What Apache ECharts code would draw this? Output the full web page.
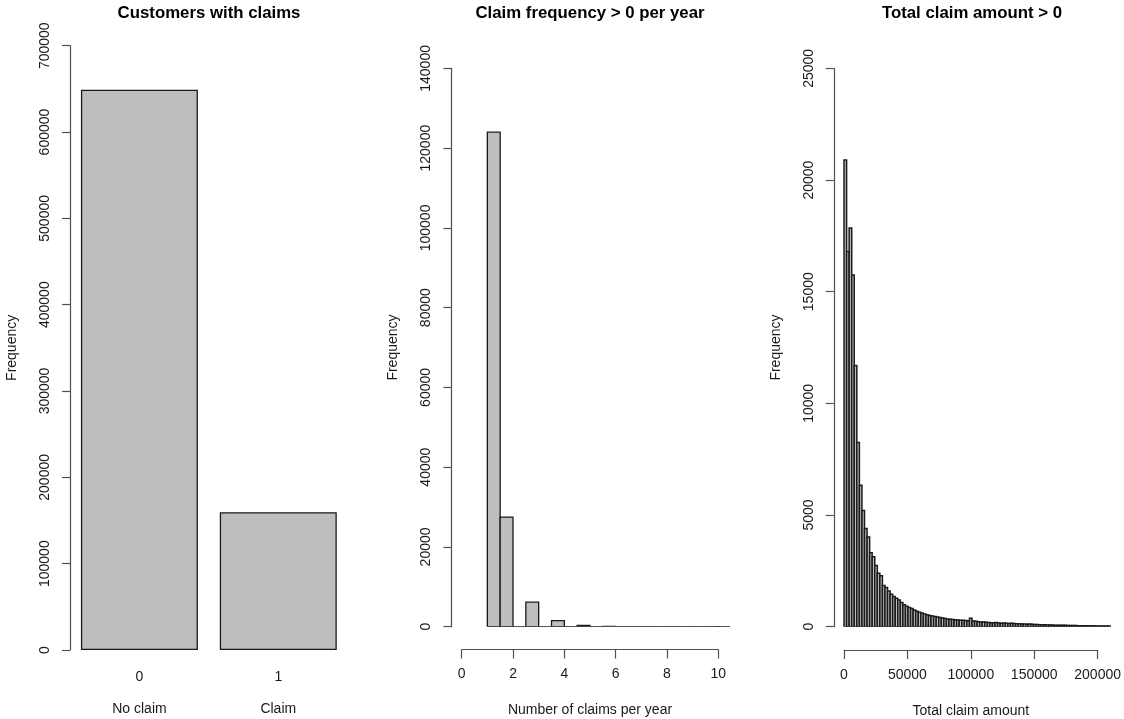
<!DOCTYPE html>
<html>
<head>
<meta charset="utf-8">
<title>Claims overview</title>
<script src="https://cdn.jsdelivr.net/npm/echarts@6/dist/echarts.min.js"></script>
<style>
  html, body { margin: 0; padding: 0; background: #ffffff; }
  #chart { width: 1124px; height: 719px; }
</style>
</head>
<body>
<div id="chart"></div>
<script>
// ---- Panel 1: customers with / without a claim ----
const claimCodes = ['0', '1'];
const claimNames = ['No claim', 'Claim'];
const customerCounts = [649000, 159600];

// ---- Panel 2: number of claims per year (histogram, claims > 0) ----
const freqBreaks = [1, 1.5, 2, 2.5, 3, 3.5, 4, 4.5, 5, 5.5, 6, 6.5, 7, 7.5, 8, 8.5, 9, 9.5, 10, 10.5];
const freqCounts = [124000, 27500, 0, 6150, 0, 1500, 0, 350, 0, 80, 0, 25, 0, 10, 0, 4, 0, 2, 1];

// ---- Panel 3: total claim amount (histogram, amount > 0), bins of 2000 ----
const amountBinWidth = 2000;
const amountCounts = [
  20900, 16800, 17850, 15750, 11700, 8250, 6330, 5200, 4400, 4020,
  3310, 3130, 2740, 2390, 2280, 1850, 1750, 1600, 1450, 1350,
  1270, 1190, 1080, 980, 920, 860, 810, 750, 690, 650,
  610, 570, 540, 500, 480, 455, 430, 415, 395, 370,
  340, 330, 320, 310, 300, 290, 285, 275, 270, 375,
  250, 240, 225, 210, 205, 195, 190, 180, 175, 185,
  165, 160, 170, 150, 145, 150, 140, 135, 130, 125,
  120, 115, 125, 105, 100, 95, 90, 90, 85, 80,
  80, 75, 70, 70, 65, 60, 60, 58, 55, 52,
  50, 48, 45, 45, 42, 40, 40, 38, 36, 35,
  34, 32, 30, 28
];

// Axis ranges and tick steps
const customerAxis = { max: 700000, step: 100000 };
const freqYAxis = { max: 140000, step: 20000 };
const freqXAxis = { min: 0, max: 10, step: 2 };
const amountYAxis = { max: 25000, step: 5000 };
const amountXAxis = { min: 0, max: 200000, step: 50000 };

// Histogram rows: [left edge, right edge, count]
const freqData = freqCounts.map((n, i) => [freqBreaks[i], freqBreaks[i + 1], n]);
const amountData = amountCounts.map((n, i) => [i * amountBinWidth, (i + 1) * amountBinWidth, n]);

const FONT = '"Liberation Sans", Arial, Helvetica, sans-serif';
const TXT = '#1a1a1a';
const AX = '#505050';
const FS = 14;
const plain = v => String(v);

function histRect(fill, stroke, lw) {
  return function (params, api) {
    const tl = api.coord([api.value(0), api.value(2)]);
    const br = api.coord([api.value(1), 0]);
    return {
      type: 'rect',
      shape: { x: tl[0], y: tl[1], width: br[0] - tl[0], height: br[1] - tl[1] },
      style: { fill: fill, stroke: stroke, lineWidth: lw }
    };
  };
}

function freqYAxisCfg(gridIndex, cfg) {
  return {
    type: 'value', gridIndex: gridIndex, min: 0, max: cfg.max, interval: cfg.step,
    name: 'Frequency', nameLocation: 'middle', nameGap: 51,
    nameTextStyle: { fontFamily: FONT, fontSize: FS, color: TXT },
    axisLine: { show: true, onZero: false, lineStyle: { color: AX, width: 1.2 } },
    axisTick: { show: true, length: 8, lineStyle: { color: AX, width: 1.2 } },
    axisLabel: {
      rotate: 90, margin: 18, fontFamily: FONT, fontSize: FS, color: TXT,
      formatter: plain, hideOverlap: false, showMinLabel: true, showMaxLabel: true
    },
    splitLine: { show: false }
  };
}

function bottomAxisCfg(gridIndex, cfg, name) {
  return {
    type: 'value', gridIndex: gridIndex, position: 'bottom',
    min: cfg.min, max: cfg.max, interval: cfg.step,
    name: name, nameLocation: 'middle', nameGap: 54,
    nameTextStyle: { fontFamily: FONT, fontSize: FS, color: TXT },
    axisLine: { show: true, onZero: false, lineStyle: { color: AX, width: 1.2 } },
    axisTick: { show: true, length: 9, lineStyle: { color: AX, width: 1.2 } },
    axisLabel: {
      margin: 18, fontFamily: FONT, fontSize: FS, color: TXT,
      formatter: plain, hideOverlap: false, showMinLabel: true, showMaxLabel: true
    },
    splitLine: { show: false }
  };
}

function hiddenAxis(gridIndex, min, max) {
  return {
    type: 'value', gridIndex: gridIndex, show: false, min: min, max: max,
    axisLine: { onZero: false }, splitLine: { show: false }
  };
}

function titleCfg(text, centre) {
  return {
    text: text, left: centre, top: 5, textAlign: 'center', padding: 0,
    textStyle: { fontFamily: FONT, fontSize: 16.8, fontWeight: 'bold', color: '#000' }
  };
}

const option = {
  backgroundColor: '#ffffff',
  animation: false,
  title: [
    titleCfg('Customers with claims', 209),
    titleCfg('Claim frequency > 0 per year', 590),
    titleCfg('Total claim amount > 0', 972)
  ],
  grid: [
    { left: 70, top: 45.7, width: 277.7, height: 604.3 },      // panel 1
    { left: 451.4, top: 68.4, width: 277.2, height: 558.3 },   // panel 2 plot
    { left: 461.7, top: 648.5, width: 256.6, height: 1 },      // panel 2 x axis
    { left: 833.8, top: 68.4, width: 276.4, height: 558.3 },   // panel 3 plot
    { left: 844, top: 649, width: 256, height: 1 }             // panel 3 x axis
  ],
  xAxis: [
    {
      type: 'category', gridIndex: 0, data: claimCodes, position: 'bottom',
      axisLine: { show: false }, axisTick: { show: false },
      axisLabel: { margin: 20, fontFamily: FONT, fontSize: FS, color: TXT }
    },
    {
      type: 'category', gridIndex: 0, data: claimNames, position: 'bottom',
      axisLine: { show: false }, axisTick: { show: false },
      axisLabel: { margin: 52, fontFamily: FONT, fontSize: FS, color: TXT }
    },
    hiddenAxis(1, -0.4, 10.4),
    bottomAxisCfg(2, freqXAxis, 'Number of claims per year'),
    hiddenAxis(3, -8000, 208000),
    bottomAxisCfg(4, amountXAxis, 'Total claim amount')
  ],
  yAxis: [
    freqYAxisCfg(0, customerAxis),
    freqYAxisCfg(1, freqYAxis),
    hiddenAxis(2, 0, 1),
    freqYAxisCfg(3, amountYAxis),
    hiddenAxis(4, 0, 1)
  ],
  series: [
    {
      type: 'bar', xAxisIndex: 0, yAxisIndex: 0, data: customerCounts,
      barWidth: 117,
      itemStyle: { color: '#bebebe', borderColor: '#1a1a1a', borderWidth: 1.3 }
    },
    {
      type: 'custom', xAxisIndex: 2, yAxisIndex: 1, data: freqData, clip: true,
      renderItem: histRect('#bebebe', '#1a1a1a', 1.3)
    },
    {
      type: 'custom', xAxisIndex: 4, yAxisIndex: 3, data: amountData, clip: true,
      renderItem: histRect('#bebebe', '#1a1a1a', 1.5)
    }
  ]
};

const chart = echarts.init(document.getElementById('chart'), null, { renderer: 'canvas' });
chart.setOption(option);
</script>
</body>
</html>
